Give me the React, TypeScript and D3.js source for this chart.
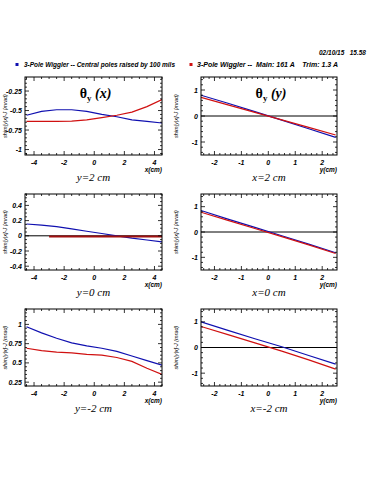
import React from "react";
import * as d3 from "d3";

// ---- data ----
const xGrid = [-4.5, -3.5, -2.5, -1.5, -0.5, 0.5, 1.5, 2.5, 3.5, 4.5];
const yGrid = [-2.5, -1.5, -0.5, 0.5, 1.5, 2.5];

const r1LeftBlue = [-0.56, -0.51, -0.49, -0.49, -0.51, -0.55, -0.58, -0.62, -0.64, -0.66];
const r1LeftRed = [-0.64, -0.64, -0.64, -0.635, -0.62, -0.59, -0.56, -0.52, -0.45, -0.36];
const r2LeftBlue = [0.155, 0.14, 0.12, 0.09, 0.06, 0.03, 0.0, -0.03, -0.055, -0.08];
const r2LeftRedX = [-3, 4.5];
const r2LeftRed = [-0.01, -0.01];
const r3LeftBlue = [0.97, 0.89, 0.82, 0.76, 0.72, 0.69, 0.65, 0.59, 0.53, 0.47];
const r3LeftRed = [0.69, 0.66, 0.64, 0.63, 0.61, 0.6, 0.57, 0.52, 0.43, 0.35];

const r1RightBlue = [0.8, 0.49, 0.17, -0.16, -0.49, -0.82];
const r1RightRed = [0.72, 0.43, 0.14, -0.15, -0.44, -0.73];
const r2RightBlue = [0.85, 0.51, 0.18, -0.15, -0.48, -0.82];
const r2RightRed = [0.78, 0.46, 0.14, -0.18, -0.51, -0.85];
const r3RightBlue = [1.0, 0.67, 0.34, 0.03, -0.31, -0.65];
const r3RightRed = [0.82, 0.5, 0.18, -0.14, -0.48, -0.84];

const leftXTicks = [-4, -2, 0, 2, 4];
const rightXTicks = [-2, -1, 0, 1, 2];
const r1LeftYTicks = [-1, -0.75, -0.5, -0.25];
const r2LeftYTicks = [-0.4, -0.2, 0, 0.2, 0.4];
const r3LeftYTicks = [0.25, 0.5, 0.75, 1];
const rightYTicks = [-1, 0, 1];

const legendLabels = [
  "3-Pole Wiggler -- Central poles raised by 100 mils",
  "3-Pole Wiggler --  Main: 161 A    Trim: 1.3 A",
];
const dateLabel = "02/10/15   15.58";
const rowLabelsLeft = ["y=2 cm", "y=0 cm", "y=-2 cm"];
const rowLabelsRight = ["x=2 cm", "x=0 cm", "x=-2 cm"];
const yTitle = "shim[y|x]-J (mrad)";

const BLUE = "#1010b0";
const RED = "#d01010";

type Series = { xs: number[]; ys: number[]; color: string; width: number };

function fmt(v: number) {
  return String(v);
}

function Panel(props: {
  x0: number; x1: number; y0: number; y1: number;
  xDomain: [number, number]; yDomain: [number, number];
  xTicks: number[]; xMinor: number; yTicks: number[]; yMinor: number;
  series: Series[]; xLabel: string; rowLabel: string; title?: string;
  zeroLine?: boolean; yTitleOffset: number;
}) {
  const { x0, x1, y0, y1 } = props;
  const xs = d3.scaleLinear().domain(props.xDomain).range([x0, x1]);
  const ys = d3.scaleLinear().domain(props.yDomain).range([y1, y0]);
  const xMinorTicks = d3.range(Math.ceil(props.xDomain[0] / props.xMinor - 1e-9), Math.floor(props.xDomain[1] / props.xMinor + 1e-9) + 1).map((i) => i * props.xMinor);
  const yMinorTicks = d3.range(Math.ceil(props.yDomain[0] / props.yMinor - 1e-9), Math.floor(props.yDomain[1] / props.yMinor + 1e-9) + 1).map((i) => i * props.yMinor);
  const line = d3.line<[number, number]>().x((d) => xs(d[0])).y((d) => ys(d[1]));
  const tf = { fontFamily: "Liberation Sans, Arial, sans-serif", fontStyle: "italic", fontWeight: 700, fontSize: 7 } as const;
  return (
    <g>
      <defs>
        <clipPath id={`clip-${x0}-${y0}`}>
          <rect x={x0} y={y0} width={x1 - x0} height={y1 - y0} />
        </clipPath>
      </defs>
      <g clipPath={`url(#clip-${x0}-${y0})`}>
        {props.zeroLine && (
          <line x1={x0} x2={x1} y1={ys(0)} y2={ys(0)} stroke="#000" strokeWidth={1} />
        )}
        {props.series.map((s, i) => (
          <path key={i} d={line(s.xs.map((x, j) => [x, s.ys[j]] as [number, number])) || ""} fill="none" stroke={s.color} strokeWidth={s.width} />
        ))}
      </g>
      {xMinorTicks.map((t, i) => {
        const major = props.xTicks.some((m) => Math.abs(m - t) < 1e-6);
        const L = major ? 4 : 2;
        const px = xs(t);
        return (
          <g key={"xt" + i}>
            <line x1={px} x2={px} y1={y1} y2={y1 - L} stroke="#000" strokeWidth={0.8} />
            <line x1={px} x2={px} y1={y0} y2={y0 + L} stroke="#000" strokeWidth={0.8} />
          </g>
        );
      })}
      {yMinorTicks.map((t, i) => {
        const major = props.yTicks.some((m) => Math.abs(m - t) < 1e-6);
        const L = major ? 4 : 2;
        const py = ys(t);
        return (
          <g key={"yt" + i}>
            <line x1={x0} x2={x0 + L} y1={py} y2={py} stroke="#000" strokeWidth={0.8} />
            <line x1={x1} x2={x1 - L} y1={py} y2={py} stroke="#000" strokeWidth={0.8} />
          </g>
        );
      })}
      <rect x={x0} y={y0} width={x1 - x0} height={y1 - y0} fill="none" stroke="#000" strokeWidth={1} />
      {props.xTicks.map((t) => (
        <text key={"xl" + t} x={xs(t)} y={y1 + 10} textAnchor="middle" {...tf}>{fmt(t)}</text>
      ))}
      {props.yTicks.map((t) => (
        <text key={"yl" + t} x={x0 - 3} y={ys(t) + 2.5} textAnchor="end" {...tf}>{fmt(t)}</text>
      ))}
      <text x={x1} y={y1 + 17} textAnchor="end" {...tf} fontSize={6.5}>{props.xLabel}</text>
      <text x={(x0 + x1) / 2} y={y1 + 26} textAnchor="middle" fontFamily="Liberation Serif, Times New Roman, serif" fontStyle="italic" fontSize={11}>{props.rowLabel}</text>
      <text transform={`translate(${x0 - props.yTitleOffset},${(y0 + y1) / 2}) rotate(-90)`} textAnchor="middle" {...tf} fontWeight={400} fontSize={5.5}>{yTitle}</text>
      {props.title && (
        <text x={(x0 + x1) / 2 + 2} y={y0 + 21} textAnchor="middle" fontFamily="Liberation Serif, Times New Roman, serif" fontWeight={700} fontSize={14}>
          θ<tspan fontSize={9} dy={3}>y</tspan><tspan dy={-3} fontStyle="italic"> ({props.title})</tspan>
        </text>
      )}
    </g>
  );
}

export default function App() {
  const L = { x0: 25, x1: 162 };
  const R = { x0: 201, x1: 337 };
  const rows = [
    { y0: 77, y1: 155 },
    { y0: 194, y1: 270 },
    { y0: 309, y1: 386 },
  ];
  const leftData = [
    { blue: r1LeftBlue, red: r1LeftRed, redX: xGrid, dom: [-1.07, -0.07] as [number, number], ticks: r1LeftYTicks, minor: 0.05, redW: 1.2 },
    { blue: r2LeftBlue, red: r2LeftRed, redX: r2LeftRedX, dom: [-0.45, 0.55] as [number, number], ticks: r2LeftYTicks, minor: 0.05, redW: 2 },
    { blue: r3LeftBlue, red: r3LeftRed, redX: xGrid, dom: [0.2, 1.2] as [number, number], ticks: r3LeftYTicks, minor: 0.05, redW: 1.2 },
  ];
  const rightData = [
    { blue: r1RightBlue, red: r1RightRed },
    { blue: r2RightBlue, red: r2RightRed },
    { blue: r3RightBlue, red: r3RightRed },
  ];
  const small = { fontFamily: "Liberation Sans, Arial, sans-serif", fontStyle: "italic", fontWeight: 700, fontSize: 6.5, style: { whiteSpace: "pre" as const } };
  return (
    <svg width={375} height={500} style={{ position: "absolute", left: 0, top: 0, background: "#fff" }}>
      <rect width={375} height={500} fill="#fff" />
      <text x={366} y={55} textAnchor="end" {...small}>{dateLabel}</text>
      <rect x={15.5} y={63} width={3} height={3} fill={BLUE} />
      <text x={24} y={66.5} {...small} textLength={151} lengthAdjust="spacingAndGlyphs">{legendLabels[0]}</text>
      <rect x={189.5} y={63} width={3} height={3} fill={RED} />
      <text x={197} y={66.5} {...small} textLength={141} lengthAdjust="spacingAndGlyphs">{legendLabels[1]}</text>
      {rows.map((r, i) => (
        <g key={i}>
          <Panel
            x0={L.x0} x1={L.x1} y0={r.y0} y1={r.y1}
            xDomain={[-4.6, 4.5]} yDomain={leftData[i].dom}
            xTicks={leftXTicks} xMinor={0.5} yTicks={leftData[i].ticks} yMinor={leftData[i].minor}
            series={[
              { xs: xGrid, ys: leftData[i].blue, color: BLUE, width: 1.2 },
              { xs: leftData[i].redX, ys: leftData[i].red, color: i === 1 ? "#a01010" : RED, width: leftData[i].redW },
            ]}
            xLabel="x(cm)" rowLabel={rowLabelsLeft[i]} title={i === 0 ? "x" : undefined}
            zeroLine={i === 1} yTitleOffset={18}
          />
          <Panel
            x0={R.x0} x1={R.x1} y0={r.y0} y1={r.y1}
            xDomain={[-2.5, 2.55]} yDomain={[-1.5, 1.5]}
            xTicks={rightXTicks} xMinor={0.2} yTicks={rightYTicks} yMinor={0.2}
            series={[
              { xs: yGrid, ys: rightData[i].blue, color: BLUE, width: 1.2 },
              { xs: yGrid, ys: rightData[i].red, color: RED, width: 1.2 },
            ]}
            xLabel="y(cm)" rowLabel={rowLabelsRight[i]} title={i === 0 ? "y" : undefined}
            zeroLine={true} yTitleOffset={23}
          />
        </g>
      ))}
    </svg>
  );
}
